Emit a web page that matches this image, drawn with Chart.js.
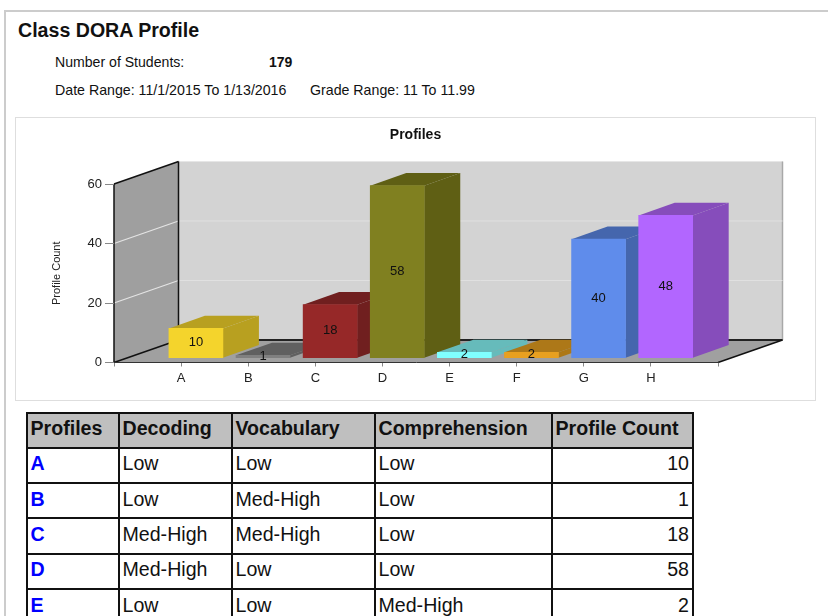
<!DOCTYPE html>
<html><head><meta charset="utf-8">
<script src="https://cdn.jsdelivr.net/npm/chart.js@4"></script>
<style>
html,body{margin:0;padding:0;background:#fff;width:828px;height:616px;overflow:hidden;font-family:"Liberation Sans",Arial,sans-serif;color:#111}
.t{position:absolute;white-space:nowrap;line-height:1}
#frameT{position:absolute;left:4px;top:10px;right:0;height:2px;background:#ccc}
#frameL{position:absolute;left:4px;top:10px;bottom:0;width:2px;background:#ccc}
#box{position:absolute;left:15px;top:117px;width:799px;height:282px;border:1.5px solid #dedede}
canvas{position:absolute;left:15px;top:117px}
table{position:absolute;left:25.5px;top:411.5px;border-collapse:collapse;table-layout:fixed;font-size:19.6px;border:1px solid #777}
td,th{border:2px solid #111;padding:0 3px 3px 3px;height:33.3px;box-sizing:border-box;text-align:left;overflow:hidden;white-space:nowrap}
th{background:#bfbfbf;font-weight:bold}
td.n{text-align:right}
td.p{color:#00f;font-weight:bold}
#wrap{position:absolute;left:0;top:0;width:828px;height:616px;overflow:hidden}
</style></head><body>
<div id="wrap">
<div id="frameT"></div><div id="frameL"></div>
<div class="t" style="left:18px;top:21px;font-size:19.6px;font-weight:bold">Class DORA Profile</div>
<div class="t" style="left:55px;top:55px;font-size:14.1px">Number of Students:</div>
<div class="t" style="left:269px;top:55px;font-size:14px;font-weight:bold">179</div>
<div class="t" style="left:55px;top:83px;font-size:14.2px">Date Range: 11/1/2015 To 1/13/2016</div>
<div class="t" style="left:310px;top:83px;font-size:14.2px">Grade Range: 11 To 11.99</div>
<div id="box"></div>
<canvas id="c" width="801" height="284"></canvas>
<table id="tb"></table>
</div>
<script>
const chartTitle = "Profiles";
const yAxisTitle = "Profile Count";
const categories = ["A","B","C","D","E","F","G","H"];
const profileCounts = [10,1,18,58,2,2,40,48];
const frontColors = ["#F4D42C","#808080","#962828","#808020","#80FFFF","#E8A020","#5F8CEB","#B266FF"];
const sideColors  = ["#B8A020","#606060","#701F1F","#5F5F14","#66BBBB","#AD7818","#4566AD","#864DBB"];
const yTicks = [0,20,40,60];
const tableHeaders = ["Profiles","Decoding","Vocabulary","Comprehension","Profile Count"];
const tableProfiles = ["A","B","C","D","E"];
const tableDecoding = ["Low","Low","Med-High","Med-High","Low"];
const tableVocabulary = ["Low","Med-High","Med-High","Low","Low"];
const tableComprehension = ["Low","Low","Low","Low","Med-High"];
const tableCounts = [10,1,18,58,2];
const colWidths = [92,113,143,177,141.5];

// table
const tb = document.getElementById('tb');
let html = '<colgroup>' + colWidths.map(w=>`<col style="width:${w}px">`).join('') + '</colgroup><tr>' +
  tableHeaders.map(h=>`<th>${h}</th>`).join('') + '</tr>';
tableProfiles.forEach((p,i)=>{
  html += `<tr><td class="p">${p}</td><td>${tableDecoding[i]}</td><td>${tableVocabulary[i]}</td><td>${tableComprehension[i]}</td><td class="n">${tableCounts[i]}</td></tr>`;
});
tb.innerHTML = html;
tb.style.width = colWidths.reduce((a,b)=>a+b,0)+'px';
[...tb.rows].forEach(r=>r.style.height='35.3px');

// 3-D look (style constants only)
const WALL_DX = 64.5, WALL_DY = 22.5;   // depth of the box
const BAR_SHIFT_X = 14.8, BAR_SHIFT_Y = 4.3; // bars stand inside the box
const BAR_DX = 36, BAR_DY = 12.6;       // depth of every bar

function poly(ctx, pts, fill, stroke, lw){
  ctx.beginPath();
  pts.forEach((p,i)=> i?ctx.lineTo(p[0],p[1]):ctx.moveTo(p[0],p[1]));
  ctx.closePath();
  if(fill){ctx.fillStyle=fill;ctx.fill();}
  if(stroke){ctx.strokeStyle=stroke;ctx.lineWidth=lw||1;ctx.stroke();}
}
function line(ctx,x1,y1,x2,y2,c,w){
  ctx.beginPath();ctx.moveTo(x1,y1);ctx.lineTo(x2,y2);ctx.strokeStyle=c;ctx.lineWidth=w||1;ctx.stroke();
}
const box3d = {
  id:'box3d',
  beforeDraw(chart){
    const {ctx,chartArea:a,scales:{y}} = chart;
    const L=a.left,R=a.right,T=a.top,B=a.bottom,dx=WALL_DX,dy=WALL_DY;
    ctx.save();
    // back wall
    poly(ctx,[[L+dx,T-dy],[R+dx,T-dy],[R+dx,B-dy],[L+dx,B-dy]],'#D3D3D3');
    line(ctx,L+dx,T-dy,R+dx,T-dy,'#e6e6e6',1);
    line(ctx,R+dx,T-dy,R+dx,B-dy,'#a8a8a8',1.5);
    // left wall
    poly(ctx,[[L,B],[L+dx,B-dy],[L+dx,T-dy],[L,T]],'#9F9F9F');
    // floor
    poly(ctx,[[L,B],[L+dx,B-dy],[R+dx,B-dy],[R,B]],'#A0A0A0');
    // gridlines
    y.ticks.forEach(t=>{
      if(t.value===0||t.value===y.max) return;
      const p=y.getPixelForValue(t.value);
      line(ctx,L,p,L+dx,p-dy,'#e4e4e4',1.2);
      line(ctx,L+dx,p-dy,R+dx,p-dy,'#e0e0e0',1);
    });
    // black edges
    ctx.lineJoin='round';
    line(ctx,L,B,L,T,'#111',1.5);
    line(ctx,L,T,L+dx,T-dy,'#111',1.5);
    line(ctx,L+dx,T-dy,L+dx,B-dy,'#111',1.5);
    line(ctx,L,B,L+dx,B-dy,'#111',1.5);
    line(ctx,L+dx,B-dy,R+dx,B-dy,'#222',1.8);
    line(ctx,R,B,R+dx,B-dy,'#111',1.5);
    ctx.restore();
  },
  beforeDatasetsDraw(chart){
    const ctx=chart.ctx, bars=chart.getDatasetMeta(0).data;
    ctx.save();
    ctx.translate(BAR_SHIFT_X,-BAR_SHIFT_Y);
    bars.forEach((b,i)=>{
      const v=chart.data.datasets[0].data[i];
      if(v==null) return;
      const x0=b.x-b.width/2,x1=b.x+b.width/2,top=b.y,base=b.base,c=sideColors[i-1];
      poly(ctx,[[x1,base],[x1+BAR_DX,base-BAR_DY],[x1+BAR_DX,top-BAR_DY],[x1,top]],c);
      poly(ctx,[[x0,top],[x0+BAR_DX,top-BAR_DY],[x1+BAR_DX,top-BAR_DY],[x1,top]],c);
    });
  },
  afterDatasetsDraw(chart){
    const ctx=chart.ctx, bars=chart.getDatasetMeta(0).data;
    ctx.fillStyle='#111';
    ctx.font='13px "Liberation Sans"';
    ctx.textAlign='center';ctx.textBaseline='middle';
    bars.forEach((b,i)=>{
      const v=chart.data.datasets[0].data[i];
      if(v==null) return;
      ctx.fillText(String(v),b.x,(b.y+b.base)/2-0.5);
    });
    ctx.restore();
  }
};

const pad = a => ['',...a,''];
const padV = a => [null,...a,null];
new Chart(document.getElementById('c'),{
  type:'bar',
  data:{labels:pad(categories),datasets:[{
    data:padV(profileCounts),
    backgroundColor:padV(frontColors),
    borderWidth:0,
    barThickness:54,
    clip:false
  }]},
  plugins:[box3d],
  options:{
    responsive:false,animation:false,
    plugins:{
      legend:{display:false},
      tooltip:{enabled:false},
      title:{display:true,text:chartTitle,color:'#111',
        font:{family:'"Liberation Sans"',size:14,weight:'bold'},
        padding:{top:9.6,bottom:40.6}}
    },
    scales:{
      x:{
        offset:false,
        grid:{display:true,offset:false,drawOnChartArea:false,drawTicks:true,tickLength:4,tickColor:'#888'},
        border:{display:true,color:'#333',width:1},
        ticks:{autoSkip:false,maxRotation:0,minRotation:0,padding:4,color:'#222',font:{family:'"Liberation Sans"',size:13}},
        afterFit(s){s.height=38.5;}
      },
      y:{
        min:0,max:60,
        afterBuildTicks(s){s.ticks=yTicks.map(v=>({value:v}));},
        grid:{display:true,drawOnChartArea:false,drawTicks:true,tickLength:9,tickColor:'#888'},
        border:{display:false},
        ticks:{padding:3,color:'#222',font:{family:'"Liberation Sans"',size:13}},
        title:{display:true,text:yAxisTitle,color:'#222',font:{family:'"Liberation Sans"',size:11},padding:{top:35.5,bottom:0}},
        afterFit(s){s.width=99;}
      },
      rightGutter:{
        position:'right',display:true,
        grid:{display:false},border:{display:false},ticks:{display:false},
        afterFit(s){s.width=98;}
      }
    }
  }
});
</script>
</body></html>
